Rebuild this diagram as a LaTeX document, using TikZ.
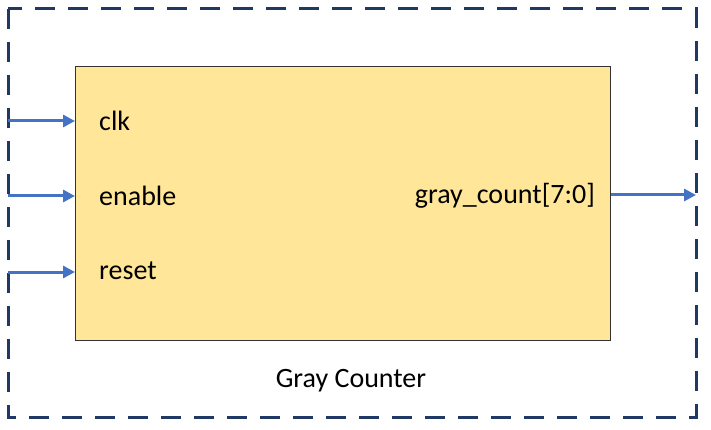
\documentclass[tikz,border=0pt]{standalone}
\usepackage{fontspec}
\setmainfont{Carlito}
\usetikzlibrary{arrows.meta}
\definecolor{dashblue}{HTML}{203864}
\definecolor{arrowblue}{HTML}{4472C4}
\definecolor{boxfill}{HTML}{FFE699}
\begin{document}
\begin{tikzpicture}[x=1pt,y=-1pt,
  outer/.style={draw=dashblue,line width=3pt,dash pattern=on 20pt off 13pt},
  block/.style={draw=black!80,line width=0.8pt,fill=boxfill},
  sig/.style={draw=arrowblue,line width=3pt,-{Triangle[length=12pt,width=12pt]}},
  lbl/.style={font=\fontsize{28}{32}\selectfont,inner sep=0pt}]
\useasboundingbox (0,0) rectangle (711,430);
\draw[outer] (8,9) rectangle (696,417);
\node[block,minimum width=535pt,minimum height=274pt,anchor=north west,inner sep=0pt] (blk) at (75,66) {};
\node[lbl,anchor=west] (clk) at (99,121) {clk};
\node[lbl,anchor=west] (en) at (99,196) {enable};
\node[lbl,anchor=west] (rst) at (99,271) {reset};
\node[lbl,anchor=east] (gc) at (595,196) {gray\_count[7:0]};
\node[lbl] (title) at (351,381) {Gray Counter};
\coordinate (i1) at (8,121);
\coordinate (i2) at (8,196);
\coordinate (i3) at (8,272);
\coordinate (o1) at (696,195);
\draw[sig] (i1) -- (i1 -| blk.west);
\draw[sig] (i2) -- (i2 -| blk.west);
\draw[sig] (i3) -- (i3 -| blk.west);
\draw[sig] (o1 -| blk.east) -- (o1);
\end{tikzpicture}
\end{document}
